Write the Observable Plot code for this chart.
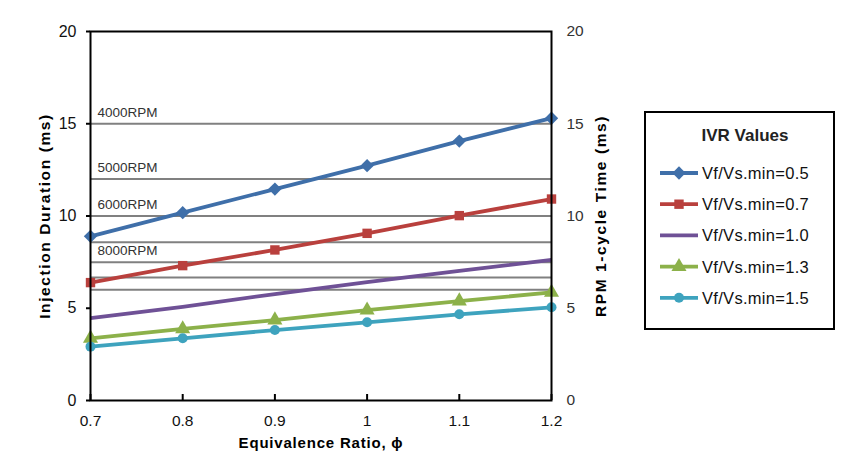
<!DOCTYPE html>
<html>
<head>
<meta charset="utf-8">
<script src="https://cdn.jsdelivr.net/npm/d3@7"></script>
<script src="https://cdn.jsdelivr.net/npm/@observablehq/plot@0.6"></script>
<style>
  html, body { margin: 0; padding: 0; background: #fff; }
  #chart { width: 841px; height: 458px; }
  #chart svg { font-family: "Liberation Sans", Arial, sans-serif; }
</style>
</head>
<body>
<div id="chart"></div>
<script>
// Equivalence ratio values along the x axis
const phi = [0.7, 0.8, 0.9, 1.0, 1.1, 1.2];

// Injection duration (ms) for each IVR setting
const ivr05 = [8.9, 10.18, 11.46, 12.73, 14.06, 15.3];
const ivr07 = [6.39, 7.31, 8.16, 9.06, 10.02, 10.92];
const ivr10 = [4.46, 5.08, 5.77, 6.41, 7.02, 7.62];
const ivr13 = [3.37, 3.88, 4.36, 4.9, 5.39, 5.86];
const ivr15 = [2.92, 3.37, 3.82, 4.24, 4.67, 5.05];

const seriesNames = ["Vf/Vs.min=0.5", "Vf/Vs.min=0.7", "Vf/Vs.min=1.0", "Vf/Vs.min=1.3", "Vf/Vs.min=1.5"];
const seriesValues = [ivr05, ivr07, ivr10, ivr13, ivr15];
const seriesColors = ["#3f6fa9", "#b9403d", "#6f5196", "#8cb14a", "#3ea3be"];
const seriesSymbols = ["diamond2", "square", null, "triangle", "circle"];
const seriesSizes = [6, 5.3, 0, 5.6, 5];

// Engine speeds and their 1-cycle time (ms) = 60000 / rpm
const rpm = [4000, 5000, 6000, 7000, 8000, 9000, 10000];
const rpmLabelled = [4000, 5000, 6000, 8000];

const yTicks = [0, 5, 10, 15, 20];
const xTicks = [0.7, 0.8, 0.9, 1.0, 1.1, 1.2];

const rows = [];
seriesNames.forEach((name, i) => {
  phi.forEach((p, j) => rows.push({series: name, idx: i, phi: p, ms: seriesValues[i][j]}));
});
const cycle = rpm.map(r => ({rpm: r, ms: 60000 / r}));
const cycleLabels = cycle.filter(d => rpmLabelled.includes(d.rpm));

const seriesMarks = seriesNames.flatMap((name, i) => {
  const data = rows.filter(d => d.idx === i);
  const m = [Plot.line(data, {x: "phi", y: "ms", stroke: seriesColors[i], strokeWidth: 3.8, strokeLinecap: "butt"})];
  if (seriesSymbols[i]) {
    m.push(Plot.dot(data, {x: "phi", y: "ms", fill: seriesColors[i], stroke: "none", symbol: seriesSymbols[i], r: seriesSizes[i]}));
  }
  return m;
});

const chart = Plot.plot({
  width: 841,
  height: 458,
  marginLeft: 90,
  marginRight: 290,
  marginTop: 31,
  marginBottom: 58,
  style: {fontFamily: "'Liberation Sans', Arial, sans-serif", background: "#fff"},
  x: {domain: [0.7, 1.2]},
  y: {domain: [0, 20]},
  marks: [
    Plot.ruleY(cycle, {y: "ms", stroke: "#808080", strokeWidth: 2}),
    Plot.text(cycleLabels, {x: () => 0.7, y: "ms", text: d => `${d.rpm}RPM`, textAnchor: "start", dx: 7, dy: -11, fontSize: 13.5, fill: "#333"}),
    ...seriesMarks,
    Plot.frame({stroke: "#000", strokeWidth: 2}),
    // left axis: outward ticks
    Plot.axisY(yTicks, {anchor: "left", tickSize: 4, tickPadding: 10, fontSize: 16, fill: "#111", label: null, strokeWidth: 2}),
    // right axis: labels only
    Plot.axisY(yTicks, {anchor: "right", tickSize: 0, tickPadding: 15, fontSize: 15.5, fill: "#333", label: null}),
    // bottom axis: inward ticks, then labels
    Plot.axisX(xTicks, {anchor: "bottom", tickSize: 6, dy: -6, text: null, label: null, strokeWidth: 2}),
    Plot.axisX(xTicks, {anchor: "bottom", tickSize: 0, tickPadding: 14, fontSize: 15.5, fill: "#111", label: null, tickFormat: d => String(d)}),
    // rotated titles, centred on the frame's height
    Plot.text(["Injection Duration (ms)"], {frameAnchor: "left", textAnchor: "middle", dx: -45, rotate: -90, fontWeight: "bold", fontSize: 15.5, fill: "#000"}),
    Plot.text(["RPM 1-cycle Time (ms)"], {frameAnchor: "right", textAnchor: "middle", dx: 50, rotate: -90, fontWeight: "bold", fontSize: 15.5, fill: "#000"}),
    Plot.text(["Equivalence Ratio, ϕ"], {frameAnchor: "bottom", dy: 47, fontWeight: "bold", fontSize: 15, fill: "#000"})
  ]
});

document.getElementById("chart").appendChild(chart);

// Letter spacing on the axis titles
d3.select(chart).selectAll("text").each(function () {
  const t = this.textContent;
  if (t === "Injection Duration (ms)" || t === "RPM 1-cycle Time (ms)") d3.select(this).attr("letter-spacing", "1.6");
  else if (t === "Equivalence Ratio, ϕ") d3.select(this).attr("letter-spacing", "0.8");
});

// Legend box drawn into the same SVG
const svg = d3.select(chart);
const lg = svg.append("g").attr("transform", "translate(645,112)").attr("text-anchor", "start");
lg.append("rect").attr("x", 0).attr("y", 0).attr("width", 189).attr("height", 217)
  .attr("fill", "#fff").attr("stroke", "#000").attr("stroke-width", 2);
lg.append("text").attr("x", 100).attr("y", 23).attr("text-anchor", "middle")
  .attr("dominant-baseline", "central").attr("font-weight", "bold").attr("font-size", 17)
  .attr("fill", "#222").text("IVR Values");
const symbolMap = {diamond2: d3.symbolDiamond2, square: d3.symbolSquare, triangle: d3.symbolTriangle, circle: d3.symbolCircle};
seriesNames.forEach((name, i) => {
  const y = 61 + i * 31.2;
  const row = lg.append("g").attr("transform", `translate(0,${y})`);
  row.append("line").attr("x1", 15).attr("x2", 53).attr("y1", 0).attr("y2", 0)
    .attr("stroke", seriesColors[i]).attr("stroke-width", 3.8);
  if (seriesSymbols[i]) {
    const r = seriesSizes[i];
    row.append("path").attr("transform", "translate(34,0)")
      .attr("d", d3.symbol(symbolMap[seriesSymbols[i]], Math.PI * r * r)())
      .attr("fill", seriesColors[i]);
  }
  row.append("text").attr("x", 57).attr("y", 0).attr("dominant-baseline", "central")
    .attr("text-anchor", "start").attr("font-size", 16.5).attr("letter-spacing", "0.3")
    .attr("fill", "#111").text(name);
});
</script>
</body>
</html>
